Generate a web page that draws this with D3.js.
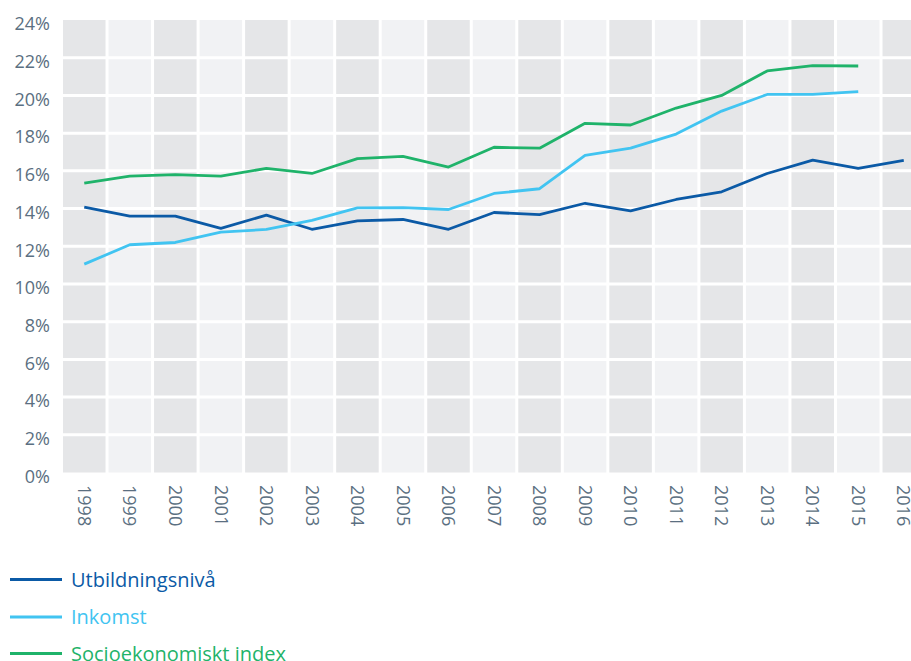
<!DOCTYPE html>
<meta charset="utf-8">
<style>
  body { margin: 0; background: #fff; }
  svg { display: block; font-family: "Open Sans", sans-serif; }
  .tick-label { fill: #5b6f81; font-size: 18px; }
  .legend-label { font-size: 20px; }
</style>
<div id="my_dataviz"></div>
<script src="https://d3js.org/d3.v7.min.js"></script>
<script>

// data
var years = ["1998","1999","2000","2001","2002","2003","2004","2005","2006","2007",
             "2008","2009","2010","2011","2012","2013","2014","2015","2016"];
var yTicks = [0, 2, 4, 6, 8, 10, 12, 14, 16, 18, 20, 22, 24];

var utbildning = [14.07, 13.6, 13.6, 12.95, 13.65, 12.9, 13.35, 13.42, 12.9, 13.79,
                  13.68, 14.28, 13.88, 14.48, 14.89, 15.86, 16.57, 16.13, 16.55];
var inkomst = [11.05, 12.08, 12.2, 12.75, 12.89, 13.37, 14.04, 14.05, 13.95, 14.8,
               15.05, 16.82, 17.2, 17.95, 19.17, 20.05, 20.06, 20.2, null];
var socio = [15.35, 15.72, 15.8, 15.72, 16.13, 15.86, 16.65, 16.77, 16.2, 17.25,
             17.2, 18.52, 18.43, 19.33, 20.0, 21.3, 21.58, 21.56, null];

var seriesNames = ["Utbildningsnivå", "Inkomst", "Socioekonomiskt index"];
var seriesColors = ["#0b5aa6", "#41c4f1", "#1fb36a"];
var seriesValues = [utbildning, inkomst, socio];

var width = 911, height = 661;

var svg = d3.select("#my_dataviz")
  .append("svg")
    .attr("width", width)
    .attr("height", height);

// X: one band per year, the last one runs off the right edge
var x = d3.scaleBand()
  .domain(years)
  .range([63, 63 + 19 * 45.37])
  .paddingInner(0.066)
  .paddingOuter(0);

var y = d3.scaleLinear()
  .domain([0, 24])
  .range([472.5, 20]);

var plot = svg.append("g");

// alternating column shading
plot.selectAll(".col")
  .data(years)
  .enter()
  .append("rect")
    .attr("class", "col")
    .attr("x", function(d) { return x(d); })
    .attr("y", y(24))
    .attr("width", x.bandwidth())
    .attr("height", y(0) - y(24))
    .attr("fill", function(d, i) { return i % 2 === 0 ? "#e5e6e8" : "#f1f2f4"; });

// white horizontal grid lines
plot.selectAll(".grid")
  .data(yTicks.filter(function(d) { return d > 0 && d < 24; }))
  .enter()
  .append("line")
    .attr("x1", 60)
    .attr("x2", width)
    .attr("y1", function(d) { return y(d); })
    .attr("y2", function(d) { return y(d); })
    .attr("stroke", "#fff")
    .attr("stroke-width", 3);

// Y labels
svg.selectAll(".ylab")
  .data(yTicks)
  .enter()
  .append("text")
    .attr("class", "tick-label")
    .attr("x", 50)
    .attr("y", function(d) { return y(d) + 4; })
    .attr("dy", "0.35em")
    .attr("text-anchor", "end")
    .text(function(d) { return d + "%"; });

// X labels, rotated to read downward
svg.selectAll(".xlab")
  .data(years)
  .enter()
  .append("text")
    .attr("class", "tick-label")
    .attr("text-anchor", "start")
    .attr("dy", "0.35em")
    .attr("transform", function(d) {
      return "translate(" + (x(d) + x.bandwidth() / 2) + ",485) rotate(90)";
    })
    .text(function(d) { return d; });

// lines
var line = d3.line()
  .defined(function(d) { return d != null; })
  .x(function(d, i) { return x(years[i]) + x.bandwidth() / 2; })
  .y(function(d) { return y(d); });

seriesValues.forEach(function(vals, k) {
  plot.append("path")
    .datum(vals)
    .attr("fill", "none")
    .attr("stroke", seriesColors[k])
    .attr("stroke-width", 2.8)
    .attr("stroke-linejoin", "round")
    .attr("d", line);
});

// legend
var legendY = [579.5, 617, 653.5];
var legend = svg.selectAll(".legend")
  .data(seriesNames)
  .enter()
  .append("g")
    .attr("transform", function(d, i) { return "translate(0," + legendY[i] + ")"; });

legend.append("line")
  .attr("x1", 10)
  .attr("x2", 62)
  .attr("stroke", function(d, i) { return seriesColors[i]; })
  .attr("stroke-width", 3);

legend.append("text")
  .attr("class", "legend-label")
  .attr("x", 71)
  .attr("dy", "0.35em")
  .attr("fill", function(d, i) { return seriesColors[i]; })
  .text(function(d) { return d; });

</script>
